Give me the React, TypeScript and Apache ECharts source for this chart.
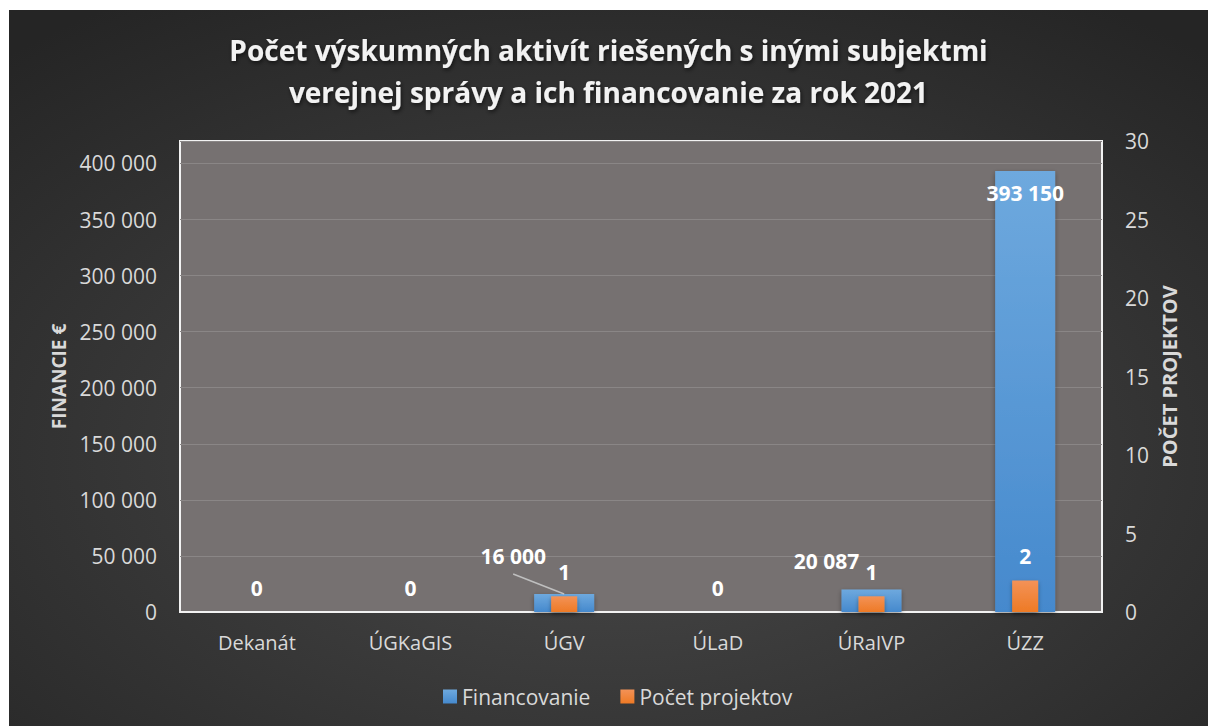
import React, { useEffect, useRef } from "react";
import * as echarts from "echarts";

const categories = ["Dekanát", "ÚGKaGIS", "ÚGV", "ÚLaD", "ÚRaIVP", "ÚZZ"];
const financovanie = [0, 0, 16000, 0, 20087, 393150];
const pocetProjektov = [0, 0, 1, 0, 1, 2];
const leftTicks = { min: 0, max: 420000, interval: 50000 };
const rightTicks = { min: 0, max: 30, interval: 5 };

const fmt = (v: number) => String(Math.round(v)).replace(/\B(?=(\d{3})+(?!\d))/g, " ");

const FONT = "'Open Sans', 'Noto Sans', sans-serif";
const LEADER_INDEX = 2;
const LEADER_DX = -51;
const LEADER_DY = -20;

export default function App() {
  const ref = useRef<HTMLDivElement>(null);
  useEffect(() => {
    if (!ref.current) return;
    const chart = echarts.init(ref.current, null, { renderer: "svg" });
    const maxIdx = financovanie.indexOf(Math.max(...financovanie));
    const blueData = financovanie.map((v, i) => {
      const item: any = { value: v };
      if (v === 0) item.label = { show: false };
      else if (i === maxIdx) item.label = { position: "insideTop", distance: 11 };
      return item;
    });
    chart.setOption({
      animation: false,
      backgroundColor: new echarts.graphic.RadialGradient(0.5, 0.62, 0.75, [
        { offset: 0, color: "#4a4a4a" },
        { offset: 1, color: "#252525" },
      ]),
      textStyle: { fontFamily: FONT },
      title: {
        text: "Počet výskumných aktivít riešených s inými subjektmi\nverejnej správy a ich financovanie za rok 2021",
        left: "center",
        top: 19,
        padding: 0,
        textStyle: {
          color: "#f2f2f2",
          fontFamily: FONT,
          fontWeight: "bold",
          fontSize: 28,
          lineHeight: 42,
          textShadowColor: "rgba(0,0,0,0.6)",
          textShadowBlur: 4,
          textShadowOffsetX: 1,
          textShadowOffsetY: 2,
        },
      },
      legend: {
        bottom: 14,
        left: 429,
        itemWidth: 14,
        itemHeight: 14,
        itemGap: 30,
        icon: "rect",
        textStyle: { color: "#d9d9d9", fontSize: 21, fontFamily: FONT },
        data: ["Financovanie", "Počet projektov"],
      },
      grid: {
        left: 171,
        right: 106,
        top: 131,
        bottom: 114,
        show: true,
        backgroundColor: "#767171",
        borderColor: "#f2f2f2",
        borderWidth: 2,
        z: 0,
      },
      xAxis: [
        {
          type: "category",
          data: categories,
          axisLine: { show: true, lineStyle: { color: "#f2f2f2", width: 2 } },
          axisTick: { show: false },
          axisLabel: { color: "#d9d9d9", fontSize: 20, margin: 20, fontFamily: FONT },
        },
        {
          type: "category",
          data: categories,
          show: false,
        },
      ],
      yAxis: [
        {
          type: "value",
          min: leftTicks.min,
          max: leftTicks.max,
          interval: leftTicks.interval,
          name: "FINANCIE €",
          nameLocation: "middle",
          nameGap: 110,
          nameTextStyle: { color: "#d9d9d9", fontSize: 19, fontWeight: "bold", fontFamily: FONT },
          axisLine: { show: false },
          axisTick: { show: false },
          axisLabel: {
            color: "#d9d9d9",
            fontSize: 21,
            margin: 23,
            showMaxLabel: false,
            formatter: (v: number) => fmt(v),
          },
          splitLine: { show: true, lineStyle: { color: "#8a8686", width: 1 } },
        },
        {
          type: "value",
          min: rightTicks.min,
          max: rightTicks.max,
          interval: rightTicks.interval,
          name: "POČET PROJEKTOV",
          nameLocation: "middle",
          nameGap: 57,
          nameTextStyle: { color: "#d9d9d9", fontSize: 20, fontWeight: "bold", fontFamily: FONT },
          axisLine: { show: false },
          axisTick: { show: false },
          axisLabel: { color: "#d9d9d9", fontSize: 21, margin: 23 },
          splitLine: { show: false },
        },
      ],
      series: [
        {
          name: "Financovanie",
          type: "bar",
          xAxisIndex: 0,
          yAxisIndex: 0,
          barWidth: 60,
          data: blueData,
          itemStyle: {
            color: new echarts.graphic.LinearGradient(0, 0, 0, 1, [
              { offset: 0, color: "#6ea9de" },
              { offset: 1, color: "#4589cd" },
            ]),
            shadowColor: "rgba(0,0,0,0.35)",
            shadowBlur: 5,
            shadowOffsetY: 2,
          },
          label: {
            show: true,
            position: "top",
            color: "#ffffff",
            fontSize: 21,
            fontWeight: "bold",
            fontFamily: FONT,
            formatter: (p: any) => fmt(p.value),
          },
          labelLayout: (p: any) => {
            if (p.dataIndex === LEADER_INDEX) return { dx: -51, dy: -23 };
            if (p.dataIndex === 4) return { dx: -45, dy: -13 };
            return {};
          },
          z: 2,
        },
        {
          name: "Počet projektov",
          type: "bar",
          xAxisIndex: 1,
          yAxisIndex: 1,
          barWidth: 26,
          data: pocetProjektov,
          itemStyle: {
            color: new echarts.graphic.LinearGradient(0, 0, 0, 1, [
              { offset: 0, color: "#f39257" },
              { offset: 1, color: "#ee7a25" },
            ]),
            shadowColor: "rgba(0,0,0,0.35)",
            shadowBlur: 4,
            shadowOffsetY: 2,
          },
          label: {
            show: true,
            position: "top",
            distance: 14,
            color: "#ffffff",
            fontSize: 21,
            fontWeight: "bold",
            fontFamily: FONT,
          },
          z: 3,
        },
      ],
    });
    const pt = chart.convertToPixel({ xAxisIndex: 0, yAxisIndex: 0 }, [
      categories[LEADER_INDEX],
      financovanie[LEADER_INDEX],
    ]) as number[];
    if (pt && isFinite(pt[0]) && isFinite(pt[1])) {
      chart.setOption({
        graphic: [
          {
            type: "line",
            z: 10,
            shape: { x1: pt[0] + LEADER_DX, y1: pt[1] + LEADER_DY, x2: pt[0], y2: pt[1] },
            style: { stroke: "#bfbfbf", lineWidth: 1.5 },
          },
        ],
      });
    }
    return () => chart.dispose();
  }, []);
  return (
    <div
      ref={ref}
      style={{ position: "absolute", left: 9, top: 10, width: 1199, height: 716 }}
    />
  );
}
